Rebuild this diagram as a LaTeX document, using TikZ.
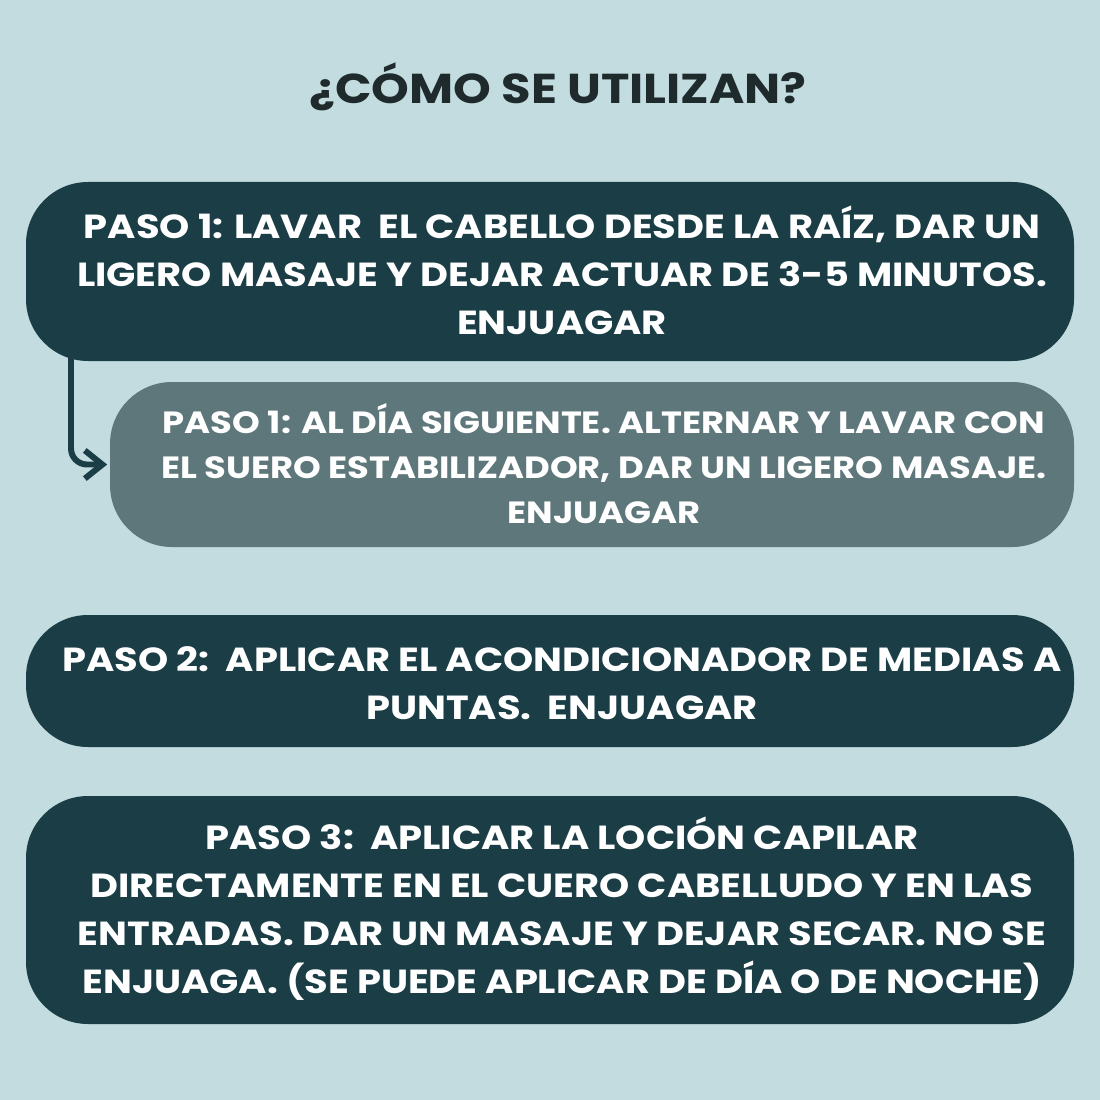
\documentclass[tikz,border=0pt]{standalone}
\usepackage{fontspec}
\setmainfont{Poppins}[FakeStretch=1.15]
\usetikzlibrary{arrows.meta,positioning}
\definecolor{bgblue}{HTML}{C3DCE0}
\definecolor{darkteal}{HTML}{1B3E46}
\definecolor{greyteal}{HTML}{5E777B}
\definecolor{titleink}{HTML}{1F2A2D}
\tikzset{
  stepbox/.style={fill=darkteal,rounded corners=0.62cm,minimum width=10.48cm,inner sep=0pt},
  subbox/.style={fill=greyteal,rounded corners=0.62cm,minimum width=9.64cm,inner sep=0pt},
  steptext/.style={text=white,align=center,font=\bfseries\fontsize{9.5}{13.66}\selectfont},
  subtext/.style={text=white,align=center,font=\bfseries\fontsize{8.74}{12.8}\selectfont},
  flowarrow/.style={draw=darkteal,line width=1.7pt,line cap=round,rounded corners=0.16cm,
    -{Straight Barb[length=5pt,width=8pt,line width=1.7pt]}}
}
\begin{document}
\begin{tikzpicture}
\fill[bgblue] (0,0) rectangle (11,-11);
\useasboundingbox (0,0) rectangle (11,-11);
\node[text=titleink,font=\bfseries\fontsize{11.88}{14}\selectfont] (title) at (5.58,-0.87) {¿CÓMO SE UTILIZAN?};
% boxes
\node[stepbox,minimum height=1.79cm] (paso1) at (5.50,-2.715) {};
\node[subbox,minimum height=1.65cm] (paso1b) at (5.92,-4.645) {};
\node[stepbox,minimum height=1.32cm] (paso2) at (5.50,-6.81) {};
\node[stepbox,minimum height=2.28cm] (paso3) at (5.50,-9.10) {};
% texts
\node[steptext] (t1) at (5.62,-2.70) {PASO 1: LAVAR\ \ EL CABELLO DESDE LA RAÍZ, DAR UN\\LIGERO MASAJE Y DEJAR ACTUAR DE 3-5 MINUTOS.\\ENJUAGAR};
\node[subtext] (t1b) at (6.04,-4.64) {PASO 1: AL DÍA SIGUIENTE. ALTERNAR Y LAVAR CON\\EL SUERO ESTABILIZADOR, DAR UN LIGERO MASAJE.\\ENJUAGAR};
\node[steptext] (t2) at (5.62,-6.83) {PASO 2:\ \ APLICAR EL ACONDICIONADOR DE MEDIAS A\\PUNTAS.\ \ ENJUAGAR};
\node[steptext] (t3) at (5.62,-9.09) {PASO 3:\ \ APLICAR LA LOCIÓN CAPILAR\\DIRECTAMENTE EN EL CUERO CABELLUDO Y EN LAS\\ENTRADAS. DAR UN MASAJE Y DEJAR SECAR. NO SE\\ENJUAGA. (SE PUEDE APLICAR DE DÍA O DE NOCHE)};
% connector
\coordinate (drop) at ([yshift=1pt]paso1.south -| 0.71,0);
\draw[flowarrow] (drop) |- ([xshift=-0.6pt]paso1b.west);
\end{tikzpicture}
\end{document}
